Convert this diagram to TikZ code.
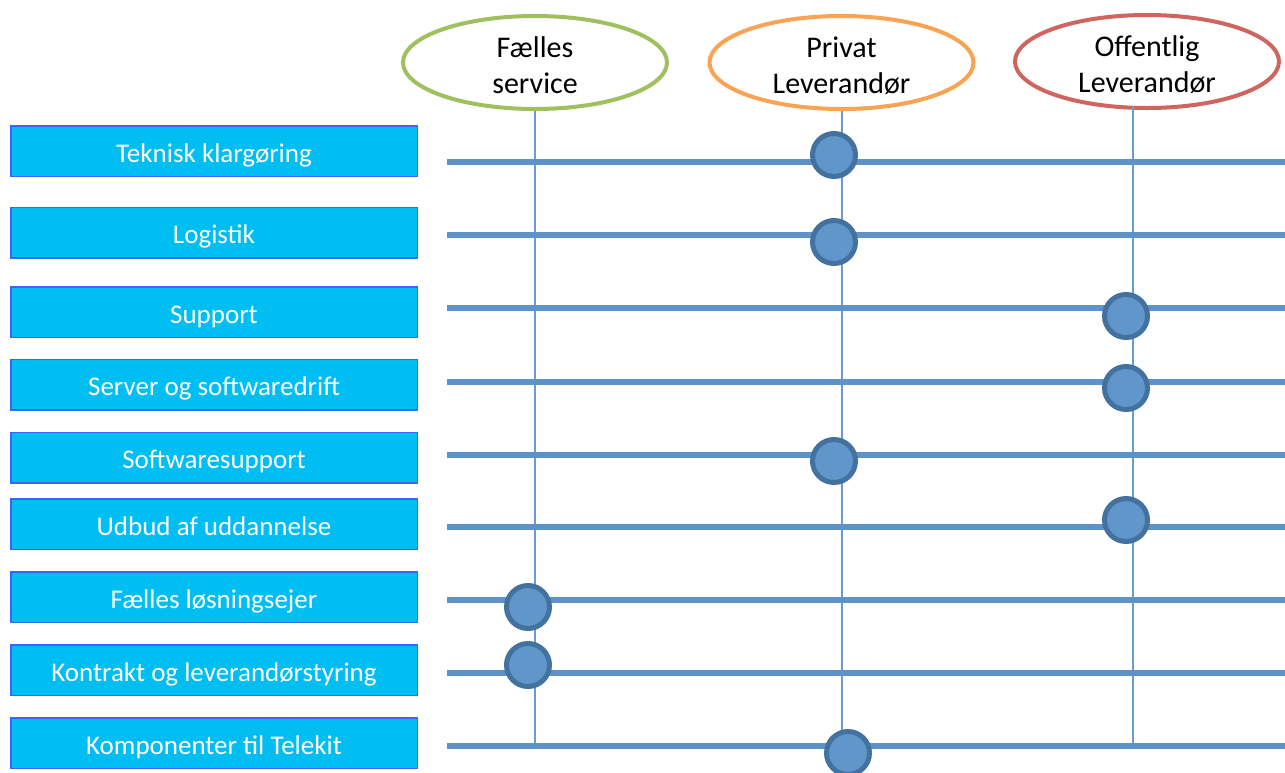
\documentclass[tikz,border=0pt]{standalone}
\usepackage{fontspec}
\setmainfont{Carlito}
\usetikzlibrary{shapes.geometric}
\definecolor{boxfill}{RGB}{0,190,242}
\definecolor{boxline}{RGB}{60,100,255}
\definecolor{hlinec}{RGB}{94,147,202}
\definecolor{vlinec}{RGB}{106,155,209}
\definecolor{dotfill}{RGB}{96,150,201}
\definecolor{dotline}{RGB}{68,114,160}
\definecolor{egreen}{RGB}{160,192,96}
\definecolor{eorange}{RGB}{248,164,84}
\definecolor{ered}{RGB}{208,100,94}
\begin{document}
\begin{tikzpicture}[x=1pt,y=-1pt,
  rowbox/.style={draw=boxline, line width=1.5pt, fill=boxfill, minimum width=406.5pt, minimum height=50.5pt, text=white, font=\fontsize{27}{32}\selectfont, inner sep=0pt, text height=22pt, text depth=0pt},
  head/.style={ellipse, line width=4pt, fill=white, minimum width=264pt, minimum height=93pt, inner sep=0pt, align=center, font=\fontsize{30}{36}\selectfont, text height=61pt, text depth=0pt},
  hrule/.style={draw=hlinec, line width=6pt},
  vrule/.style={draw=vlinec, line width=2pt},
  dot/.style={circle, draw=dotline, fill=dotfill, line width=5pt, minimum size=43pt, inner sep=0pt}]
\useasboundingbox (0,0) rectangle (1285,772);

% column headers
\node[head, draw=egreen]  (e1) at (535,62.5)  {Fælles\\service};
\node[head, draw=eorange] (e2) at (841.5,62.5) {Privat\\Leverandør};
\node[head, draw=ered]    (e3) at (1147,61.5) {Offentlig\\Leverandør};

% row boxes
\node[rowbox] (b1) at (214,151)   {Teknisk klargøring};
\node[rowbox] (b2) at (214,232.5) {Logistik};
\node[rowbox] (b3) at (214,312)   {Support};
\node[rowbox] (b4) at (214,384.5) {Server og softwaredrift};
\node[rowbox] (b5) at (214,457.5) {Softwaresupport};
\node[rowbox] (b6) at (214,524)   {Udbud af uddannelse};
\node[rowbox] (b7) at (214,597)   {Fælles løsningsejer};
\node[rowbox] (b8) at (214,670)   {Kontrakt og leverandørstyring};
\node[rowbox] (b9) at (214,743)   {Komponenter til Telekit};

% vertical lines
\coordinate (v1b) at (535,746);
\coordinate (v2b) at (841.5,746);
\coordinate (v3t) at (1133,107);
\coordinate (v3b) at (1133,746);
\draw[vrule] (e1.south) -- (v1b);
\draw[vrule] (e2.south) -- (v2b);
\draw[vrule] (v3t) -- (v3b);

% horizontal lines
\foreach \i/\y in {1/162,2/235,3/308,4/381.5,5/454.5,6/527,7/600,8/673,9/746}{
  \coordinate (h\i s) at (447,\y);
  \coordinate (h\i e) at (1285,\y);
  \draw[hrule] (h\i s) -- (h\i e);
}

% markers
\node[dot] (d1) at (834,155) {};
\node[dot] (d2) at (834,242) {};
\node[dot] (d3) at (1126,316) {};
\node[dot] (d4) at (1126,388) {};
\node[dot] (d5) at (834,461) {};
\node[dot] (d6) at (1126,520) {};
\node[dot] (d7) at (528,607) {};
\node[dot] (d8) at (528,665) {};
\node[dot] (d9) at (848,753) {};
\end{tikzpicture}
\end{document}
